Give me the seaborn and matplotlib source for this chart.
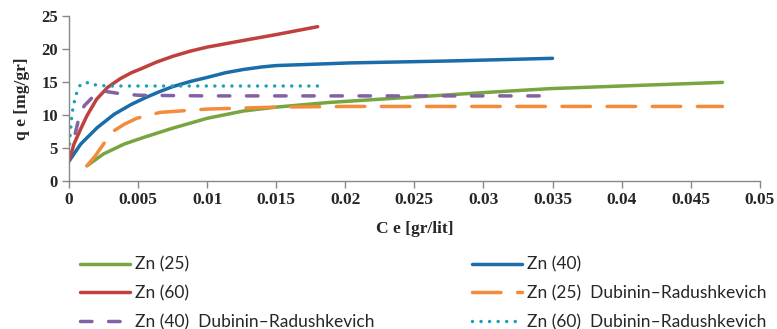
import matplotlib
matplotlib.use("Agg")
import matplotlib.pyplot as plt
import seaborn as sns
import pandas as pd

# ---- data ----
zn25_x = [0.0013, 0.0025, 0.004, 0.0054, 0.0075, 0.01, 0.0126, 0.015, 0.0188, 0.024, 0.03, 0.0348, 0.04, 0.0473]
zn25_y = [2.3, 4.1, 5.6, 6.6, 8.0, 9.5, 10.6, 11.2, 11.9, 12.6, 13.4, 14.0, 14.4, 14.95]

zn40_x = [0.0, 0.00085, 0.00205, 0.00326, 0.0045, 0.0055, 0.0065, 0.0075, 0.0088, 0.01, 0.0113,
          0.0126, 0.014, 0.015, 0.0203, 0.0276, 0.035]
zn40_y = [3.0, 5.6, 8.1, 10.1, 11.6, 12.6, 13.5, 14.3, 15.1, 15.7, 16.4,
          16.9, 17.3, 17.5, 17.9, 18.2, 18.6]

zn60_x = [0.0, 0.00036, 0.00085, 0.0013, 0.002, 0.0028, 0.0037, 0.0045, 0.0052, 0.0063, 0.0075,
          0.0088, 0.01, 0.0126, 0.015, 0.018]
zn60_y = [3.0, 5.6, 7.9, 9.9, 12.4, 14.2, 15.5, 16.4, 17.0, 18.0, 18.9,
          19.7, 20.3, 21.3, 22.2, 23.4]

dr25_x = [0.0013, 0.0019, 0.0024, 0.0031, 0.004, 0.0049, 0.0066, 0.01, 0.015, 0.02, 0.03, 0.04, 0.0473]
dr25_y = [2.3, 3.8, 5.3, 7.4, 8.6, 9.5, 10.4, 10.9, 11.2, 11.3, 11.3, 11.3, 11.3]

dr40_x = [0.00045, 0.0007, 0.0011, 0.0018, 0.0026, 0.0035, 0.005, 0.01, 0.02, 0.035]
dr40_y = [7.2, 9.4, 11.4, 12.9, 13.6, 13.3, 13.0, 12.9, 12.9, 12.9]

dr60_x = [0.0, 0.0001, 0.0002, 0.0003, 0.00043, 0.0006, 0.00085, 0.00145, 0.002, 0.003, 0.018]
dr60_y = [4.3, 7.4, 9.9, 11.2, 12.4, 13.7, 14.7, 14.95, 14.5, 14.4, 14.4]

x_ticks = [0, 0.005, 0.01, 0.015, 0.02, 0.025, 0.03, 0.035, 0.04, 0.045, 0.05]
x_tick_labels = ["0", "0.005", "0.01", "0.015", "0.02", "0.025", "0.03", "0.035", "0.04", "0.045", "0.05"]
y_ticks = [0, 5, 10, 15, 20, 25]

DR = "Dubinin\u2013Radushkevich"
series = [
    ("Zn (25)", zn25_x, zn25_y, "#77A540", "-"),
    ("Zn (40)", zn40_x, zn40_y, "#1A6DA8", "-"),
    ("Zn (60)", zn60_x, zn60_y, "#C0403E", "-"),
    ("Zn (25)  " + DR, dr25_x, dr25_y, "#F38B3A", (0, (8.2, 4.8))),
    ("Zn (40)  " + DR, dr40_x, dr40_y, "#8361A5", (0, (3.3, 4.8))),
    ("Zn (60)  " + DR, dr60_x, dr60_y, "#1AA3B5", (0, (0.01, 2.45))),
]

sns.set_theme(style="white")
plt.rcParams["font.family"] = ["Liberation Serif", "DejaVu Serif"]

fig = plt.figure(figsize=(7.77, 3.29), dpi=100)
ax = fig.add_axes([0.0888, 0.45, 0.889, 0.501])

lines = {}
for name, xs, ys, col, ls in series:
    df = pd.DataFrame({"x": xs, "y": ys})
    sns.lineplot(data=df, x="x", y="y", ax=ax, color=col, linewidth=2.5,
                 label=name, sort=False, estimator=None)
    line = ax.get_lines()[-1]
    line.set_linestyle(ls)
    line.set_solid_capstyle("round")
    line.set_dash_capstyle("round")
    line.set_solid_joinstyle("round")
    lines[name] = line

ax.set_xlim(0, 0.05)
ax.set_ylim(0, 25)
ax.set_xticks(x_ticks)
ax.set_xticklabels(x_tick_labels)
ax.set_yticks(y_ticks)
for lab in ax.get_xticklabels():
    lab.set_fontweight("bold")
    lab.set_fontsize(12.5)
for lab in ax.get_yticklabels():
    lab.set_fontweight("bold")
    lab.set_fontsize(12)
ax.tick_params(axis="both", direction="out", length=5, width=1, color="#888888",
               bottom=True, left=True, pad=3)
for s in ["top", "right"]:
    ax.spines[s].set_visible(False)
for s in ["left", "bottom"]:
    ax.spines[s].set_color("#888888")
    ax.spines[s].set_linewidth(1)

ax.set_xlabel("C e [gr/lit]", fontsize=12.5, fontweight="bold", labelpad=9)
ax.set_ylabel("q e [mg/gr]", fontsize=12.5, fontweight="bold", labelpad=8)

ax.legend_.remove()
names = [s[0] for s in series]
col1 = [names[0], names[2], names[4]]
col2 = [names[1], names[3], names[5]]
legprop = {"family": ["Lato", "DejaVu Sans"], "size": 12.5}
for cols, x0 in [(col1, 80 / 777), (col2, 472 / 777)]:
    fig.legend([lines[n] for n in cols], cols, loc="upper left",
               bbox_to_anchor=(x0, 0.22), frameon=False, borderpad=0,
               borderaxespad=0, handlelength=2.9, handletextpad=0.25,
               labelspacing=0.72, prop=legprop)

fig.savefig("out.png", dpi=100)
